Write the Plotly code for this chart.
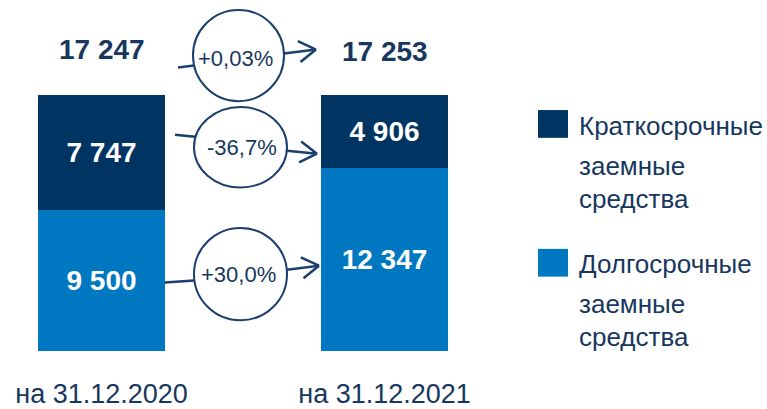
import plotly.graph_objects as go
import math

# ---- data ----
categories = ["на 31.12.2020", "на 31.12.2021"]
series_names = ["Краткосрочные заемные средства", "Долгосрочные заемные средства"]
short_term = [7747, 4906]
long_term = [9500, 12347]
totals = [17247, 17253]
pct_labels = ["+0,03%", "-36,7%", "+30,0%"]

DARK = "#003462"
LIGHT = "#0078C1"
NAVY = "#17375E"
LINE = "#1B3F6F"
FONT = "Liberation Sans, Arial, sans-serif"

W, H = 767, 409
BOTTOM = 354  # pixel of plot-area bottom
PLOT_H = BOTTOM


def fmt(v):
    return f"{v:,}".replace(",", " ")


def px(x):
    return x / W


def py(y):
    return (BOTTOM - y) / PLOT_H


fig = go.Figure()
fig.add_trace(go.Bar(
    x=categories, y=long_term, name=series_names[1], marker_color=LIGHT,
    marker_line_width=0, width=0.449,
    text=[fmt(v) for v in long_term], textposition="inside",
    insidetextanchor="middle", textangle=0,
    textfont=dict(color="white", size=28, family=FONT, weight="bold"),
))
fig.add_trace(go.Bar(
    x=categories, y=short_term, name=series_names[0], marker_color=DARK,
    marker_line_width=0, width=0.449,
    text=[fmt(v) for v in short_term], textposition="inside",
    insidetextanchor="middle", textangle=0,
    textfont=dict(color="white", size=28, family=FONT, weight="bold"),
))

annotations = []
for c, t, ys in zip(categories, totals, [46, 44]):
    annotations.append(dict(x=c, y=t, xref="x", yref="y", text=fmt(t),
                            showarrow=False, yanchor="middle", yshift=ys,
                            font=dict(size=28, color=NAVY, family=FONT, weight="bold")))

shapes = []
# change circles
circles = [(193, 10, 284, 102), (194, 108, 287, 189), (194, 230, 287, 323)]
pct_pos = [(235, 59), (242, 149), (238, 277)]
for (x0, y0, x1, y1), lab, (tx, ty) in zip(circles, pct_labels, pct_pos):
    shapes.append(dict(type="circle", xref="paper", yref="paper",
                       x0=px(x0), x1=px(x1), y0=py(y1), y1=py(y0),
                       line=dict(color=LINE, width=2)))
    annotations.append(dict(x=px(tx), y=py(ty), xref="paper", yref="paper",
                            text=lab, showarrow=False, xanchor="center", yanchor="middle",
                            font=dict(size=22, color=NAVY, family=FONT)))

# connector lines and arrows
lines_in = [((178, 68), (194, 66)), ((175, 136), (195, 138)), ((165, 285), (194, 283))]
lines_out = [((284, 54), (316, 50)), ((287, 152), (317, 155)), ((287, 272), (319, 268))]
for (a, b) in lines_in + lines_out:
    shapes.append(dict(type="line", xref="paper", yref="paper",
                       x0=px(a[0]), y0=py(a[1]), x1=px(b[0]), y1=py(b[1]),
                       line=dict(color=LINE, width=2.5)))
for (a, b) in lines_out:
    ang = math.atan2(b[1] - a[1], b[0] - a[0])
    L = 20
    for s in (1, -1):
        wa = ang + math.pi - s * math.radians(32)
        wx, wy = b[0] + L * math.cos(wa), b[1] + L * math.sin(wa)
        shapes.append(dict(type="line", xref="paper", yref="paper",
                           x0=px(wx), y0=py(wy), x1=px(b[0]), y1=py(b[1]),
                           line=dict(color=LINE, width=2.5)))

# manual legend
leg_sq = [(538, 111, 568, 139), (538, 251, 568, 279)]
leg_lines_y = [[127, 167, 201], [266, 307, 340]]
leg_colors = [DARK, LIGHT]
for name, (x0, y0, x1, y1), ys, col in zip(series_names, leg_sq, leg_lines_y, leg_colors):
    shapes.append(dict(type="rect", xref="paper", yref="paper",
                       x0=px(x0), x1=px(x1), y0=py(y1), y1=py(y0),
                       fillcolor=col, line=dict(width=0)))
    for word, yy in zip(name.split(" "), ys):
        annotations.append(dict(x=px(577), y=py(yy), xref="paper", yref="paper",
                                text=word, showarrow=False, xanchor="left", yanchor="middle",
                                font=dict(size=26, color=NAVY, family=FONT)))

fig.update_layout(
    barmode="stack", width=W, height=H,
    margin=dict(l=0, r=0, t=0, b=H - BOTTOM),
    plot_bgcolor="white", paper_bgcolor="white",
    showlegend=False, annotations=annotations, shapes=shapes,
    xaxis=dict(range=[-0.3587, 2.3516], showgrid=False, zeroline=False, showline=False,
               ticks="", tickfont=dict(size=27, color=NAVY, family=FONT),
               ticklabelstandoff=24),
    yaxis=dict(range=[0, 17247 * PLOT_H / (BOTTOM - 96)], visible=False),
    uniformtext=dict(minsize=28, mode="show"),
)
fig.write_html("out.html", config={"displayModeBar": False},
               post_script="document.body.style.margin='0';document.body.style.overflow='hidden';")
